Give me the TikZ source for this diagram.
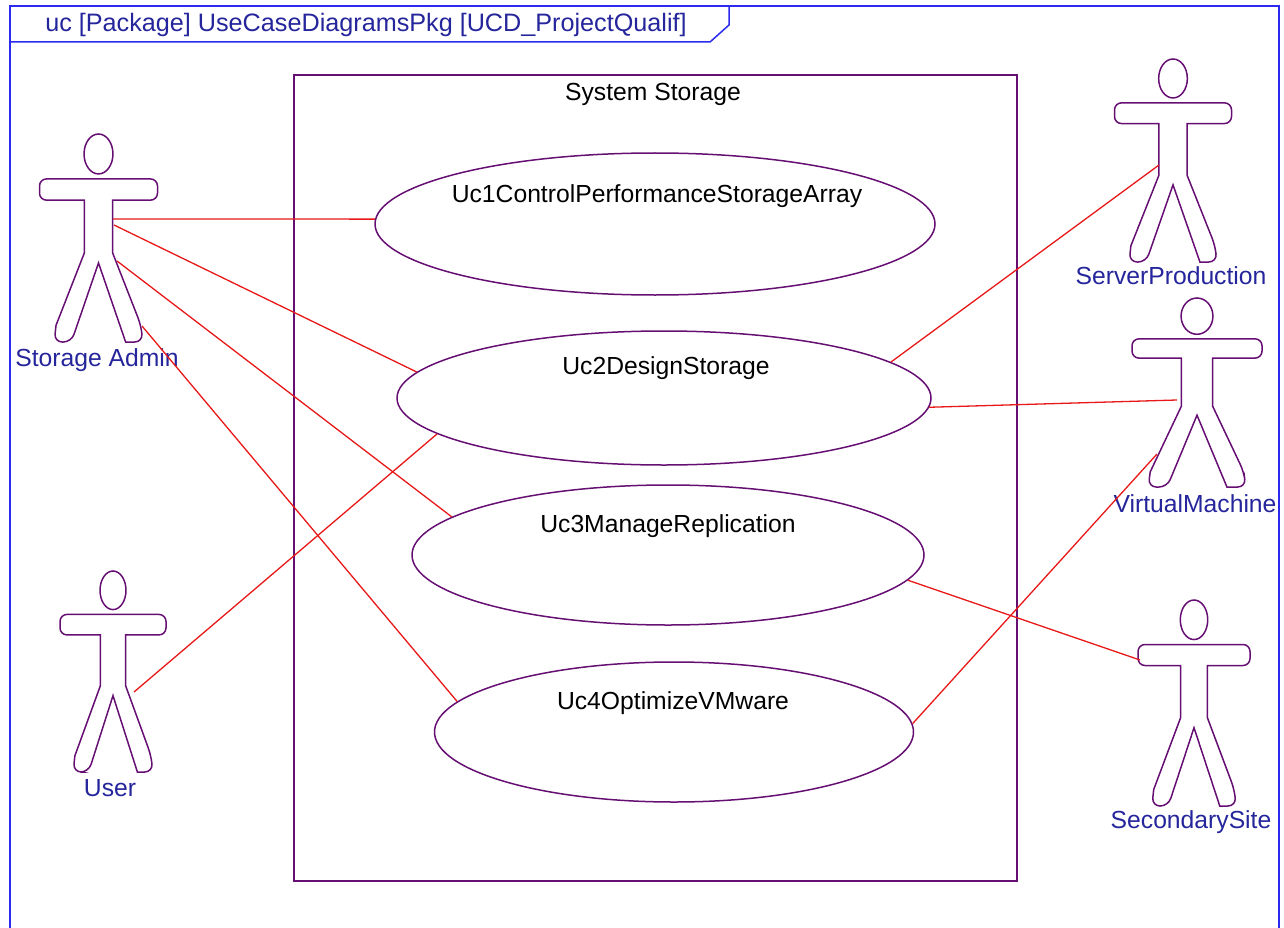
\documentclass[tikz,border=0pt]{standalone}
\usepackage{fontspec}
\setmainfont{Liberation Sans}
\usetikzlibrary{shapes.geometric}
\definecolor{umlpurple}{HTML}{660F73}
\definecolor{umlred}{HTML}{E81818}
\definecolor{umlblue}{HTML}{2A2AF0}
\definecolor{umltext}{HTML}{25259C}
\tikzset{
    frameline/.style={draw=umlblue, line width=1.5pt},
    shapeline/.style={draw=umlpurple, line width=1.5pt},
    usecase/.style={ellipse, shapeline, inner sep=0pt},
    uctext/.style={font=\fontsize{24.7}{28}\selectfont, text=black, inner sep=0pt},
    actortext/.style={font=\fontsize{24.7}{28}\selectfont, text=umltext, inner sep=0pt}
}
% #1 centre x, #2 top of the head, #3 half of the arm span, #4 height
\newcommand{\actorfig}[4]{
    \begin{scope}[shift={(#1,#2)}, x=#3pt, y=-#4pt]
        \draw [shapeline] (0,.096) ellipse [x radius=.245, y radius=.096];
        \draw [shapeline] (-.24,.318) -- (-.24,.572) -- (-.72,.92)
            [rounded corners=8pt] -- (-.75,1) -- (-.46,1)
            [sharp corners] -- (0,.62) -- (.46,1)
            [rounded corners=8pt] -- (.75,1) -- (.72,.92)
            [sharp corners] -- (.24,.572) -- (.24,.318)
            [rounded corners=7pt] -- (1,.318) -- (1,.216) -- (-1,.216) -- (-1,.318)
            [sharp corners] -- cycle;
    \end{scope}
}
\begin{document}
\begin{tikzpicture}[x=1pt, y=-1pt]
    \useasboundingbox (0,0) rectangle (1284,928);

    %frame and its tab
    \draw [frameline] (10,928) -- (10,6) -- (1279,6) -- (1279,928);
    \draw [frameline] (10,42) -- (710,42) -- (729,25) -- (729,6);
    \node [actortext, font=\fontsize{25.2}{28}\selectfont] (title) at (366,25) {uc [Package] UseCaseDiagramsPkg [UCD\_ProjectQualif]};

    %system boundary
    \draw [shapeline] (294,75) rectangle (1017,881);
    \node [uctext] (system) at (653,94) {System Storage};

    %use cases
    \begin{scope}[every node/.append style={usecase}]
        \node [minimum width=560pt, minimum height=142pt] (uc1) at (655,224) {};
        \node [minimum width=534pt, minimum height=134pt] (uc2) at (664,398) {};
        \node [minimum width=512pt, minimum height=140pt] (uc3) at (668,555) {};
        \node [minimum width=479pt, minimum height=140pt] (uc4) at (674,732) {};
    \end{scope}
    \begin{scope}[every node/.append style={uctext}]
        \node (uc1text) at (657,196) {Uc1ControlPerformanceStorageArray};
        \node (uc2text) at (666,368) {Uc2DesignStorage};
        \node (uc3text) at (668,526) {Uc3ManageReplication};
        \node (uc4text) at (673,703) {Uc4OptimizeVMware};
    \end{scope}

    %actors
    \actorfig{98.5}{134}{59}{208}
    \actorfig{113}{571}{53}{201}
    \actorfig{1173}{59}{58.5}{203}
    \actorfig{1197}{298}{65}{189}
    \actorfig{1194}{600}{56}{206}
    \begin{scope}[every node/.append style={actortext}]
        \node (admin) at (97,360) {Storage Admin};
        \node (user) at (110,788) {User};
        \node (server) at (1171,276) {ServerProduction};
        \node (vm) at (1195,504) {VirtualMachine};
        \node (site) at (1191,822) {SecondarySite};
    \end{scope}

    %where the connectors touch the actors
    \coordinate (admin1) at (113,219);
    \coordinate (admin2) at (114,225);
    \coordinate (admin3) at (117,261);
    \coordinate (admin4) at (142,326);
    \coordinate (user1) at (134,692);
    \coordinate (server1) at (1159,165);
    \coordinate (vm1) at (1177,400);
    \coordinate (vm2) at (1157,454);
    \coordinate (site1) at (1140,660);

    \begin{scope}[every path/.style={draw=umlred, line width=1.3pt}]
        \path (admin1) -- (uc1.179.2);
        \path (admin2) -- (uc2.174.7);
        \path (admin3) -- (uc3.170);
        \path (admin4) -- (uc4.172.8);
        \path (user1) -- (uc2.189.5);
        \path (server1) -- (uc2.9.3);
        \path (vm1) -- (uc2.-2.5);
        \path (vm2) -- (uc4.2.4);
        \path (site1) -- (uc3.-6);
    \end{scope}
\end{tikzpicture}
\end{document}
